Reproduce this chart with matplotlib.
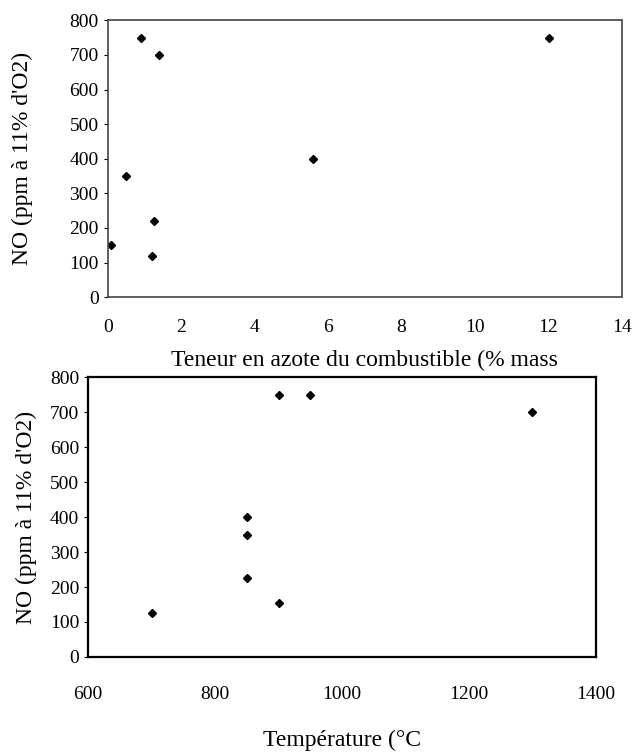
import matplotlib.pyplot as plt

plt.rcParams['font.family'] = ['Liberation Serif', 'DejaVu Serif']

# teneur en azote (% mass) vs NO
azote = [0.1, 0.5, 0.9, 1.2, 1.25, 1.4, 5.6, 12.0]
no_azote = [150, 350, 750, 120, 220, 700, 400, 750]

# temperature (C) vs NO
temp = [700, 850, 850, 850, 900, 900, 950, 1300]
no_temp = [125, 400, 350, 225, 750, 155, 750, 700]

ylab = "NO (ppm à 11% d'O2)"

fig = plt.figure(figsize=(6.34, 7.56), dpi=100)

#haut
ax1 = fig.add_axes([0.170, 0.607, 0.811, 0.366])
ax1.plot(azote, no_azote, 'kD', markersize=4.5, linestyle='none')
ax1.set_xlim(0, 14)
ax1.set_ylim(0, 800)
ax1.set_xticks(range(0, 15, 2))
ax1.set_yticks(range(0, 801, 100))
ax1.tick_params(axis='x', length=0, pad=16, labelsize=14)
ax1.tick_params(axis='y', length=3, labelsize=14)
for s in ax1.spines.values():
    s.set_color('#444444')
    s.set_linewidth(1.2)
    s.set_linestyle((0, (2, 1)))
ax1.set_xlabel('Teneur en azote du combustible (% mass', fontsize=17, labelpad=10)
ax1.set_ylabel(ylab, fontsize=17, labelpad=26)

#bas
ax2 = fig.add_axes([0.139, 0.131, 0.801, 0.370])
ax2.plot(temp, no_temp, 'kD', markersize=4.5, linestyle='none')
ax2.set_xlim(600, 1400)
ax2.set_ylim(0, 800)
ax2.set_xticks(range(600, 1401, 200))
ax2.set_yticks(range(0, 801, 100))
ax2.tick_params(axis='x', length=0, pad=21, labelsize=14)
ax2.tick_params(axis='y', length=3, labelsize=14)
for s in ax2.spines.values():
    s.set_linewidth(1.6)
ax2.set_xlabel('Température (°C', fontsize=17, labelpad=19)
ax2.set_ylabel(ylab, fontsize=17, labelpad=9)

plt.savefig('out.png', dpi=100)
